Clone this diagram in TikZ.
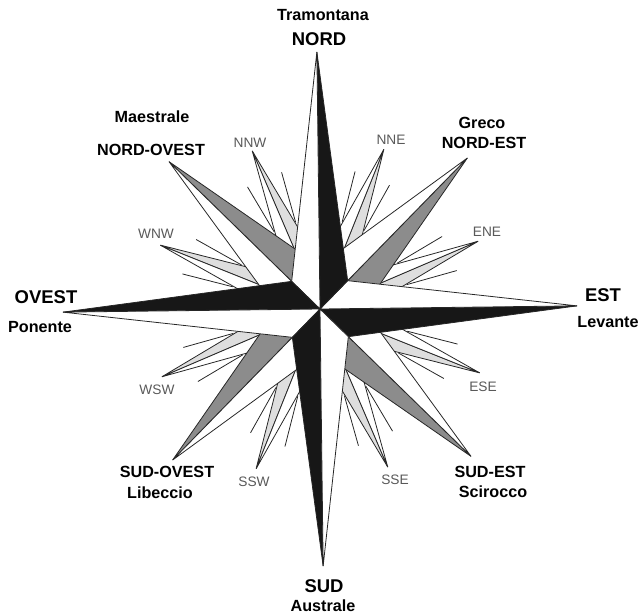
\documentclass[tikz,border=0pt]{standalone}
\usepackage{fontspec}
\setmainfont{Liberation Sans}
\usepackage{xcolor}
\usepackage{tikz}

\definecolor{pointdark}{gray}{0.09}
\definecolor{pointmid}{gray}{0.55}
\definecolor{pointlight}{gray}{0.87}
\definecolor{labelgray}{gray}{0.35}

% one point of the rose: direction, length, base corner (along, across), fill of the clockwise half
\newcommand{\rosepoint}[5]{%
  \begin{scope}[rotate=#1]
    \filldraw[fill=#5] (0,0) -- (#2,0) -- (#3,-#4) -- cycle;
    \filldraw[fill=white] (0,0) -- (#2,0) -- (#3,#4) -- cycle;
  \end{scope}}

\begin{document}
\begin{tikzpicture}[x=0.02cm, y=0.02cm,
    main/.style={font=\fontsize{10.5}{12}\selectfont\bfseries, inner sep=0pt},
    wind/.style={font=\fontsize{9.2}{11}\selectfont\bfseries, inner sep=0pt},
    minor/.style={font=\fontsize{7.8}{9}\selectfont, text=labelgray, inner sep=0pt},
    rose/.style={line width=0.45pt, black!85, line join=miter}
]
\useasboundingbox (0,0) rectangle (641,613);

\begin{scope}[shift={(320,304)}, rotate=0.7, rose]
% quarter-wind needles
\foreach \a in {22.5,67.5,...,337.5}{
  \draw ({\a-7.5}:90) -- ({\a-7.5}:142);
  \draw ({\a+7.5}:90) -- ({\a+7.5}:142);
}
% half winds
\foreach \a in {22.5,67.5,...,337.5}{
  \rosepoint{\a}{172}{45}{17}{pointlight}
}
% intercardinal points
\foreach \a in {45,135,225,315}{
  \rosepoint{\a}{211}{45}{28}{pointmid}
}
% cardinal points
\foreach \a in {0,90,180,270}{
  \rosepoint{\a}{257}{28}{28}{pointdark}
}
\end{scope}

% Cardinal labels
\node[wind] (tramontana) at (323,598) {Tramontana};
\node[main] (nord) at (319,574) {NORD};
\node[main] (est) at (603,318) {EST};
\node[wind] (levante) at (608,291) {Levante};
\node[main] (sud) at (324,27) {SUD};
\node[wind] (australe) at (323,7) {Australe};
\node[main] (ovest) at (46,316) {OVEST};
\node[wind] (ponente) at (40,286) {Ponente};

% Intercardinal labels
\node[wind] (maestrale) at (152,496) {Maestrale};
\node[wind] (nordovest) at (151,463) {NORD-OVEST};
\node[wind] (greco) at (482,490) {Greco};
\node[wind] (nordest) at (484,470) {NORD-EST};
\node[wind] (sudovest) at (167,141) {SUD-OVEST};
\node[wind] (libeccio) at (160,120) {Libeccio};
\node[wind] (sudest) at (490,141) {SUD-EST};
\node[wind] (scirocco) at (493,121) {Scirocco};

% Half-wind labels
\node[minor] (nnw) at (250,470) {NNW};
\node[minor] (nne) at (391,473) {NNE};
\node[minor] (wnw) at (156,379) {WNW};
\node[minor] (ene) at (487,381) {ENE};
\node[minor] (wsw) at (157,223) {WSW};
\node[minor] (ese) at (483,226) {ESE};
\node[minor] (ssw) at (254,131) {SSW};
\node[minor] (sse) at (395,133) {SSE};
\end{tikzpicture}
\end{document}
